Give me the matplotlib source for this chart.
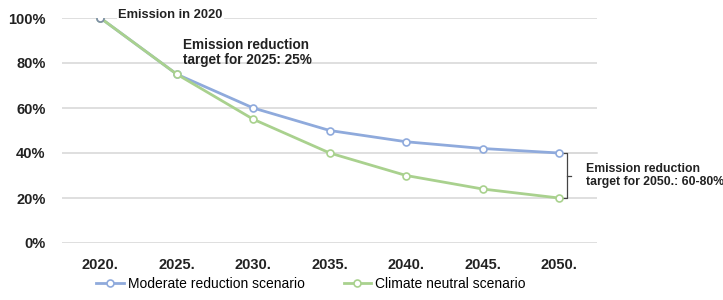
import matplotlib.pyplot as plt

years = ['2020.', '2025.', '2030.', '2035.', '2040.', '2045.', '2050.']
moderate = [100, 75, 60, 50, 45, 42, 40]
neutral = [100, 75, 55, 40, 30, 24, 20]

plt.rcParams['font.family'] = ['Liberation Sans', 'DejaVu Sans']

fig = plt.figure(figsize=(7.23, 3.0), dpi=100)
ax = fig.add_axes([0.086, 0.19, 0.74, 0.75])

x = range(len(years))
ax.plot(x, moderate, color='#8faadc', lw=2.0, marker='o', ms=5,
        mfc='white', mec='#8faadc', mew=1.2, label='Moderate reduction scenario', zorder=3)
ax.plot(x, neutral, color='#a9d18e', lw=2.0, marker='o', ms=5,
        mfc='white', mec='#a9d18e', mew=1.2, label='Climate neutral scenario', zorder=4)
# first point is drawn darker in the original
ax.plot([0], [100], marker='o', ms=5, mfc='white', mec='#7f8fa6', mew=1.2, zorder=5)

ax.set_xlim(-0.5, 6.5)
ax.set_ylim(0, 100)
ax.set_xticks(list(x))
ax.set_xticklabels(years, fontsize=10.5, fontweight='bold', color='#222222')
ax.set_yticks([0, 20, 40, 60, 80, 100])
ax.set_yticklabels(['0%', '20%', '40%', '60%', '80%', '100%'],
                   fontsize=10.5, fontweight='bold', color='#222222')
ax.tick_params(axis='x', length=0, pad=11)
ax.tick_params(axis='y', length=0, pad=12)
ax.grid(axis='y', color='#d9d9d9', lw=1.2)
ax.set_axisbelow(True)
for s in ax.spines.values():
    s.set_visible(False)

ax.text(0.23, 101.5, 'Emission in 2020', fontsize=9.3, fontweight='bold',
        va='center', ha='left', color='#222222',
        bbox=dict(facecolor='white', edgecolor='none', pad=1))
ax.text(1.08, 91, 'Emission reduction\ntarget for 2025: 25%', fontsize=9.8,
        fontweight='bold', va='top', ha='left', color='#222222', linespacing=1.1)

# bracket for 2050 target
bx = 6.1
ax.plot([bx - 0.06, bx, bx, bx - 0.06], [40, 40, 20, 20], color='#444444', lw=0.9, clip_on=False)
ax.plot([bx, bx + 0.06], [30, 30], color='#444444', lw=0.9, clip_on=False)
ax.plot([bx, 6.5], [40, 40], color='#d9d9d9', lw=1.2, clip_on=False, zorder=0)
ax.text(6.35, 30, 'Emission reduction\ntarget for 2050.: 60-80%', fontsize=8.8,
        fontweight='bold', va='center', ha='left', color='#222222', linespacing=1.15,
        clip_on=False)

fig.legend(loc='lower center', bbox_to_anchor=(0.43, -0.01), ncol=2, frameon=False,
           fontsize=10, handlelength=2.0, handletextpad=0.3, columnspacing=2.8)

fig.savefig('out.png', dpi=100)
